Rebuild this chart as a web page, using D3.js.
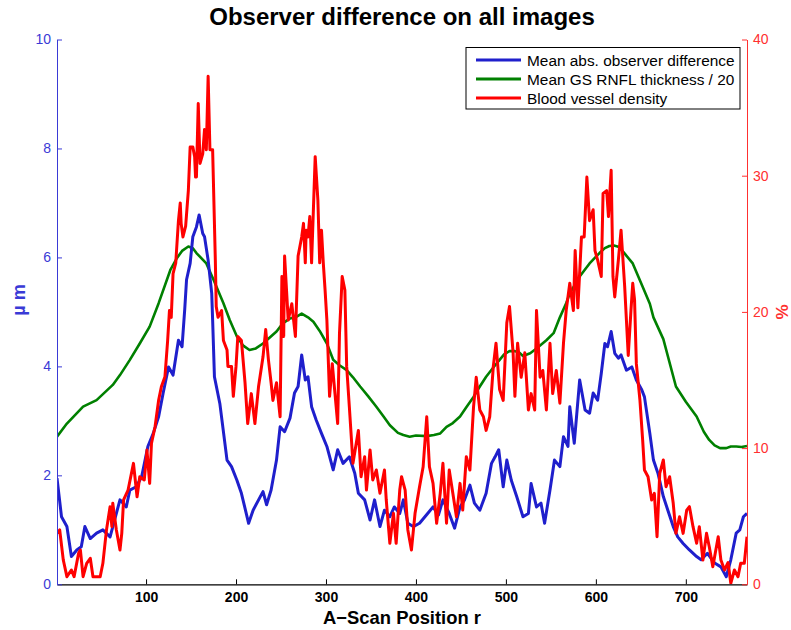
<!DOCTYPE html>
<html>
<head>
<meta charset="utf-8">
<script src="https://cdn.jsdelivr.net/npm/d3@7/dist/d3.min.js"></script>
<style>
  html, body { margin: 0; padding: 0; background: #fff; }
  svg { display: block; font-family: "Liberation Sans", Arial, Helvetica, sans-serif; }
</style>
</head>
<body>
<svg id="chart" width="791" height="630"></svg>
<script>
// A-scan positions and mean absolute observer difference (µm)
const diffPos = [1,6,12,17,23,28,32,38,45,52,60,65,71,78,82,89,95,102,108,114,119,125,130,136,140,143,145,149,152,156,159,163,165,169,173,174,176,182,190,195,201,206,214,219,227,230,234,239,245,249,254,260,265,269,273,277,280,284,289,295,301,308,313,319,326,332,336,343,349,354,360,365,371,376,382,386,391,397,404,413,419,425,430,437,443,449,454,460,465,471,478,484,488,492,497,501,506,512,519,525,528,534,539,543,549,554,560,564,569,571,576,582,588,593,597,602,606,610,613,617,621,625,628,634,640,645,651,654,660,664,669,675,680,686,691,697,704,712,717,724,732,739,745,750,756,760,764,768];
const diffVal = [1.95,1.24,1.06,0.51,0.63,0.69,1.06,0.84,0.94,1.00,0.87,1.18,1.55,1.42,1.73,1.79,1.97,2.53,2.77,3.08,3.51,3.99,3.84,4.48,4.36,5.05,5.59,5.89,6.38,6.56,6.78,6.44,6.38,5.95,5.34,4.85,3.81,3.32,2.28,2.16,1.91,1.67,1.12,1.36,1.61,1.70,1.46,1.73,2.28,2.89,2.80,3.05,3.51,3.63,4.21,3.75,3.81,3.26,3.02,2.77,2.53,2.10,2.47,2.22,2.34,2.04,1.67,1.55,1.18,1.55,1.06,1.36,1.24,1.42,1.30,1.55,1.12,1.06,1.12,1.30,1.42,1.27,1.55,1.30,1.03,1.42,1.55,1.82,1.49,1.36,1.67,2.22,2.34,2.47,1.79,2.28,1.91,1.61,1.24,1.30,1.85,1.42,1.49,1.12,1.73,2.28,2.16,2.71,2.53,3.26,2.59,3.75,3.20,3.14,3.51,3.38,3.87,4.42,4.36,4.64,4.24,4.15,4.21,3.93,3.99,3.75,3.57,3.44,2.77,2.28,2.04,1.61,1.36,1.06,0.87,0.75,0.63,0.51,0.45,0.57,0.39,0.32,0.14,0.45,0.94,1.00,1.24,1.30];

// Mean GS RNFL thickness divided by 20 (µm)
const rnflPos = [1,12,30,45,63,71,82,93,104,114,127,134,140,147,152,156,167,175,186,193,201,208,215,222,230,245,252,260,266,273,280,286,293,301,308,315,323,330,338,347,356,364,371,380,386,393,400,412,420,427,434,441,449,456,464,471,478,486,493,498,504,510,515,519,527,534,545,553,560,567,571,582,593,604,610,615,620,626,633,641,652,660,664,675,689,700,712,720,726,732,738,745,750,756,762,768];
const rnflVal = [2.71,2.95,3.26,3.38,3.66,3.84,4.12,4.42,4.73,5.16,5.77,5.98,6.12,6.20,6.17,6.08,5.89,5.59,5.16,4.85,4.55,4.38,4.30,4.33,4.42,4.64,4.79,4.88,4.90,4.97,4.90,4.82,4.65,4.42,4.12,4.02,3.93,3.80,3.63,3.45,3.26,3.08,2.92,2.78,2.74,2.71,2.73,2.72,2.74,2.77,2.89,2.96,3.08,3.25,3.44,3.63,3.81,3.98,4.12,4.22,4.28,4.28,4.25,4.19,4.24,4.33,4.48,4.61,4.90,5.16,5.34,5.65,5.89,6.08,6.17,6.21,6.22,6.19,6.05,5.89,5.46,5.15,4.90,4.50,3.63,3.35,3.08,2.80,2.65,2.55,2.50,2.50,2.53,2.53,2.52,2.54];

// Blood vessel density (%)
const vesselPos = [1,4,8,12,17,20,25,27,30,34,38,41,45,49,52,56,60,62,63,67,71,73,75,80,86,90,93,98,101,104,106,110,114,117,121,124,126,128,130,133,136,138,139,141,144,147,149,152,154,155,156,158,160,163,165,167,169,171,174,177,178,180,184,186,190,191,195,197,200,202,206,210,213,217,221,225,230,233,236,239,241,245,249,251,253,254,258,262,266,269,273,275,277,278,280,282,284,286,288,291,293,295,297,299,301,304,307,310,313,315,318,321,323,326,330,336,339,343,345,349,352,356,360,365,367,371,375,378,382,384,388,391,395,399,404,408,412,415,419,423,427,430,434,437,441,445,449,452,456,460,464,467,471,475,478,482,486,489,493,497,501,504,508,510,513,517,521,525,528,532,534,538,541,545,549,552,556,560,564,567,571,575,577,580,584,587,590,593,597,599,602,606,608,612,614,617,619,621,625,628,632,636,639,641,643,645,649,652,654,658,662,665,668,671,675,678,682,686,689,693,697,701,704,708,712,715,719,723,726,730,736,739,743,747,750,754,758,761,765,768];
const vesselVal = [3.74,3.99,1.78,0.56,1.05,0.56,2.28,2.52,0.56,1.54,1.91,0.56,0.56,0.56,1.54,3.99,5.70,4.23,5.95,3.99,2.52,3.74,6.19,6.92,8.88,6.43,7.90,7.66,9.86,7.41,10.35,11.57,13.53,14.51,15.24,17.9,20.1,19.6,22.8,23.6,26.7,28.0,26.5,25.5,26.3,28.9,32.1,32.1,31.4,29.9,29.9,35.3,30.9,31.6,33.4,31.9,37.3,31.9,31.9,23.8,20.4,19.6,20.1,17.9,17.2,16.0,16.0,13.8,16.0,18.2,17.9,14.8,11.8,14.0,11.8,14.5,16.7,18.7,16.5,14.8,13.5,14.8,12.3,22.6,18.2,24.1,19.4,20.6,18.2,24.1,25.5,26.5,23.6,26.0,25.5,27.0,23.6,27.5,31.4,28.2,23.6,26.0,23.6,21.6,19.4,13.8,16.2,14.0,11.8,18.4,22.6,21.6,16.0,13.0,8.88,11.3,7.90,9.37,6.92,9.86,7.66,8.39,6.68,8.39,6.19,3.01,5.21,3.01,6.92,7.90,6.92,3.99,2.52,5.21,7.17,8.63,12.3,8.63,7.41,4.48,6.68,8.88,4.48,8.39,6.68,4.96,7.41,5.45,9.37,8.39,13.0,15.2,12.8,12.3,11.3,12.3,16.0,17.7,14.3,13.5,19.2,20.4,17.0,13.8,17.7,15.2,17.0,12.8,14.0,12.8,20.1,15.2,15.7,12.8,17.7,14.0,15.7,13.3,17.7,20.1,22.1,20.1,24.5,20.3,25.5,25.5,29.9,26.7,27.5,24.5,23.8,22.6,28.7,28.9,27.0,30.4,22.6,21.1,23.8,26.0,21.9,16.8,20.1,22.1,20.9,16.2,13.5,10.6,8.39,7.90,6.19,6.68,3.49,8.15,9.13,7.17,7.90,5.95,3.74,4.96,3.74,5.45,5.70,4.23,3.01,4.23,1.78,3.74,2.77,1.29,3.49,1.78,1.05,1.6,0.07,1.05,0.56,1.54,1.54,3.49];

const xTicks = [100, 200, 300, 400, 500, 600, 700];
const leftTicks = [0, 2, 4, 6, 8, 10];
const rightTicks = [0, 10, 20, 30, 40];
const seriesNames = ["Mean abs. observer difference", "Mean GS RNFL thickness / 20", "Blood vessel density"];

const colBlue = "#1f1fcc", colGreen = "#008000", colRed = "#ff0000";
const colLeftAxis = "#3a3ad6", colRightAxis = "#ff3030";

const svg = d3.select("#chart");
const m = { left: 57, right: 747, top: 39.5, bottom: 584.3 };

const x = d3.scaleLinear().domain([1, 768]).range([m.left, m.right]);
const yL = d3.scaleLinear().domain([0, 10]).range([m.bottom, m.top]);
const yR = d3.scaleLinear().domain([0, 40]).range([m.bottom, m.top]);

// Curves
const pts = (p, v) => p.map((d, i) => [d, v[i]]);
svg.append("clipPath").attr("id", "plotclip")
  .append("rect").attr("x", m.left).attr("y", m.top - 2)
  .attr("width", m.right - m.left).attr("height", m.bottom - m.top + 2);

const plot = svg.append("g").attr("clip-path", "url(#plotclip)");
const lineL = d3.line().x(d => x(d[0])).y(d => yL(d[1]));
const lineR = d3.line().x(d => x(d[0])).y(d => yR(d[1]));

plot.append("path").datum(pts(rnflPos, rnflVal))
  .attr("d", lineL).attr("fill", "none").attr("stroke", colGreen)
  .attr("stroke-width", 2.6).attr("stroke-linejoin", "round");
plot.append("path").datum(pts(diffPos, diffVal))
  .attr("d", lineL).attr("fill", "none").attr("stroke", colBlue)
  .attr("stroke-width", 3).attr("stroke-linejoin", "round");
plot.append("path").datum(pts(vesselPos, vesselVal))
  .attr("d", lineR).attr("fill", "none").attr("stroke", colRed)
  .attr("stroke-width", 3).attr("stroke-linejoin", "round");

// Axes (ticks point inward)
const gx = svg.append("g").attr("transform", `translate(0,${m.bottom})`)
  .call(d3.axisBottom(x).tickValues(xTicks).tickSizeInner(-5).tickSizeOuter(0).tickPadding(8));
gx.select(".domain").attr("stroke", "#000").attr("stroke-width", 1.2);
gx.selectAll(".tick line").attr("stroke", "#000");
gx.selectAll(".tick text").attr("font-size", 14).attr("font-weight", "bold")
  .attr("fill", "#000").attr("font-family", "Liberation Sans, Arial, sans-serif");

const gl = svg.append("g").attr("transform", `translate(${m.left},0)`)
  .call(d3.axisLeft(yL).tickValues(leftTicks).tickSizeInner(-5).tickSizeOuter(0).tickPadding(6));
gl.select(".domain").attr("stroke", colLeftAxis).attr("stroke-width", 1);
gl.selectAll(".tick line").attr("stroke", colLeftAxis);
gl.selectAll(".tick text").attr("font-size", 14).attr("fill", colLeftAxis)
  .attr("font-family", "Liberation Sans, Arial, sans-serif");

const gr = svg.append("g").attr("transform", `translate(${m.right},0)`)
  .call(d3.axisRight(yR).tickValues(rightTicks).tickSizeInner(-5).tickSizeOuter(0).tickPadding(6));
gr.select(".domain").attr("stroke", colRightAxis).attr("stroke-width", 1);
gr.selectAll(".tick line").attr("stroke", colRightAxis);
gr.selectAll(".tick text").attr("font-size", 14).attr("fill", colRightAxis)
  .attr("font-family", "Liberation Sans, Arial, sans-serif");

// Titles
svg.append("text").attr("x", 402).attr("y", 25).attr("text-anchor", "middle")
  .attr("font-size", 24).attr("font-weight", "bold").attr("fill", "#000")
  .text("Observer difference on all images");
svg.append("text").attr("x", 402).attr("y", 624).attr("text-anchor", "middle")
  .attr("font-size", 18.4).attr("font-weight", "bold").attr("fill", "#000")
  .text("A\u2212Scan Position r");
svg.append("text").attr("transform", "translate(25,300) rotate(-90)")
  .attr("text-anchor", "middle").attr("font-size", 18).attr("font-weight", "bold")
  .attr("fill", colLeftAxis).text("\u00b5 m");
svg.append("text").attr("transform", "translate(788,312) rotate(-90)")
  .attr("text-anchor", "middle").attr("font-size", 17).attr("font-weight", "bold")
  .attr("fill", colRightAxis).text("%");

// Legend
const lg = svg.append("g");
lg.append("rect").attr("x", 466).attr("y", 47.5).attr("width", 274).attr("height", 61.5)
  .attr("fill", "#fff").attr("stroke", "#000").attr("stroke-width", 1);
const legendColors = [colBlue, colGreen, colRed];
seriesNames.forEach((name, i) => {
  const yy = 60 + i * 19;
  lg.append("line").attr("x1", 476).attr("x2", 521).attr("y1", yy).attr("y2", yy)
    .attr("stroke", legendColors[i]).attr("stroke-width", 3);
  lg.append("text").attr("x", 527).attr("y", yy + 5.5).attr("font-size", 15.4)
    .attr("fill", "#000").text(name);
});
</script>
</body>
</html>
